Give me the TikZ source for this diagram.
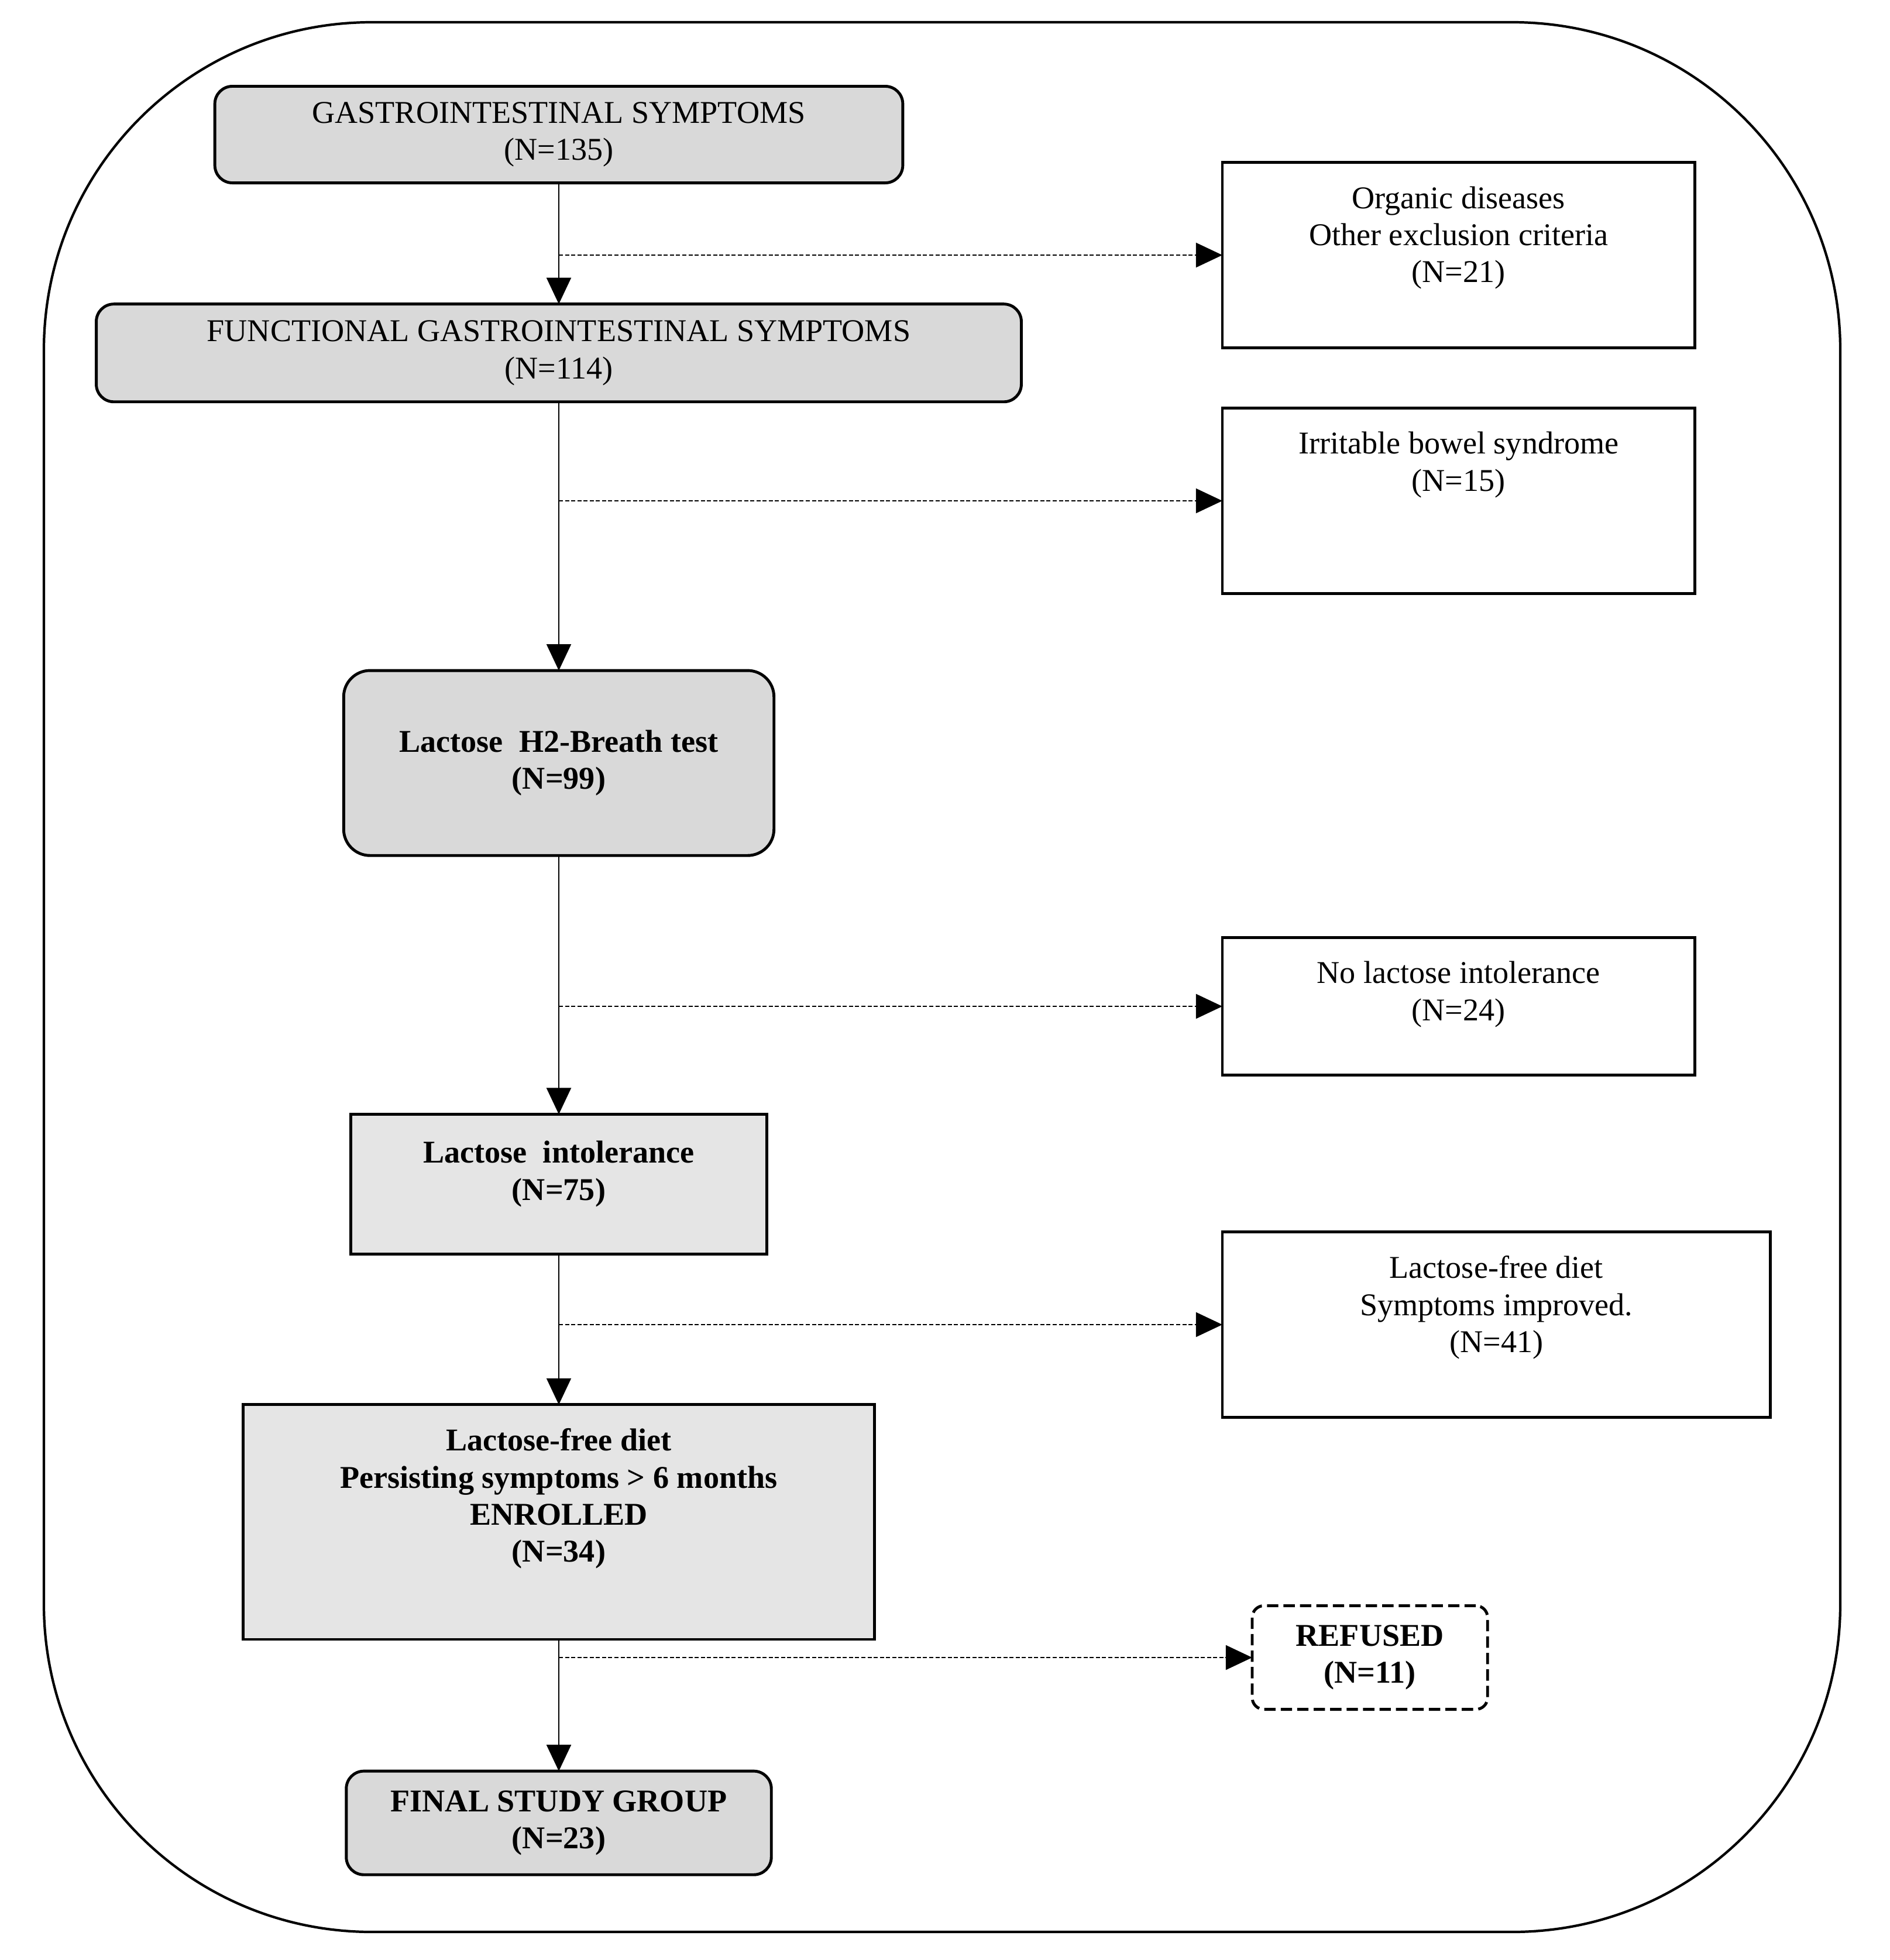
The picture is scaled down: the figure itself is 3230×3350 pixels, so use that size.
\documentclass[tikz,border=0pt]{standalone}
\usepackage{fontspec}
\setmainfont{Liberation Serif}
\usetikzlibrary{arrows.meta,positioning}
\newcommand{\boxfont}{\fontsize{15.4}{18}\selectfont}

\begin{document}
\begin{tikzpicture}[x=0.01cm,y=-0.01cm,>={Triangle[length=4.5mm,width=4.2mm]},
      font=\boxfont, semithick,
      mainbox/.style={draw, line width=1.4pt, fill=gray!30, align=center, inner sep=0pt, outer sep=0pt},
      lightbox/.style={mainbox, fill=gray!20},
      sidebox/.style={draw, line width=1.4pt, fill=white, anchor=west, inner sep=0pt, outer sep=0pt},
      toptext/.style={align=center, anchor=north, yshift=-2.8mm},
      flow/.style={->, line width=0.6pt},
      side/.style={->, line width=0.6pt, dash pattern=on 2pt off 1pt}]
     \useasboundingbox (0,0) rectangle (3230,3350);
     \draw[line width=1.2pt, rounded corners=5.6cm] (75,38) rectangle (3145,3302);

     % main column
     \node[mainbox, rounded corners=3mm, minimum width=11.75cm, minimum height=1.65cm] (gi) at (955,230)
       {GASTROINTESTINAL SYMPTOMS\\(N=135)};
     \node[mainbox, rounded corners=3mm, minimum width=15.8cm, minimum height=1.67cm, below = 2.07cm of gi] (fgi)
       {FUNCTIONAL GASTROINTESTINAL SYMPTOMS\\(N=114)};
     \node[mainbox, rounded corners=4.5mm, minimum width=7.35cm, minimum height=3.16cm, below = 4.59cm of fgi,
       font=\boxfont\bfseries] (breath) {Lactose~ H2-Breath test\\(N=99)};
     \node[lightbox, minimum width=7.11cm, minimum height=2.39cm, below = 4.42cm of breath,
       label={[toptext, yshift=-0.5mm, font=\boxfont\bfseries]north:{Lactose~ intolerance\\(N=75)}}] (li) {};
     \node[lightbox, minimum width=10.79cm, minimum height=4.01cm, below = 2.57cm of li,
       label={[toptext, font=\boxfont\bfseries]north:{Lactose-free diet\\Persisting symptoms > 6 months\\ENROLLED\\(N=34)}}] (enr) {};
     \node[mainbox, rounded corners=3mm, minimum width=7.26cm, minimum height=1.77cm, below = 2.25cm of enr,
       font=\boxfont\bfseries] (final) {FINAL STUDY GROUP\\(N=23)};

     % excluded
     \node[sidebox, minimum width=8.07cm, minimum height=3.16cm,
       label={[toptext]north:{Organic diseases\\Other exclusion criteria\\(N=21)}}] (org) at (2089,436) {};
     \node[sidebox, minimum width=8.07cm, minimum height=3.17cm,
       label={[toptext]north:{Irritable bowel syndrome\\(N=15)}}] (ibs) at (2089,856) {};
     \node[sidebox, minimum width=8.07cm, minimum height=2.35cm,
       label={[toptext]north:{No lactose intolerance\\(N=24)}}] (nolac) at (2089,1720) {};
     \node[sidebox, minimum width=9.36cm, minimum height=3.16cm,
       label={[toptext]north:{Lactose-free diet\\Symptoms improved.\\(N=41)}}] (better) at (2089,2264) {};
     \node[sidebox, rounded corners=2mm, dash pattern=on 5.5pt off 2.5pt, minimum width=4.02cm, minimum height=1.77cm,
       align=center, font=\boxfont\bfseries] (refused) at (2140,2833) {REFUSED\\(N=11)};

     \draw[flow] (gi) -- (fgi);
     \draw[flow] (fgi) -- (breath);
     \draw[flow] (breath) -- (li);
     \draw[flow] (li) -- (enr);
     \draw[flow] (enr) -- (final);

     \draw[side] (gi.south |- org.west) -- (org.west);
     \draw[side] (fgi.south |- ibs.west) -- (ibs.west);
     \draw[side] (breath.south |- nolac.west) -- (nolac.west);
     \draw[side] (li.south |- better.west) -- (better.west);
     \draw[side] (enr.south |- refused.west) -- (refused.west);
    \end{tikzpicture}
\end{document}
